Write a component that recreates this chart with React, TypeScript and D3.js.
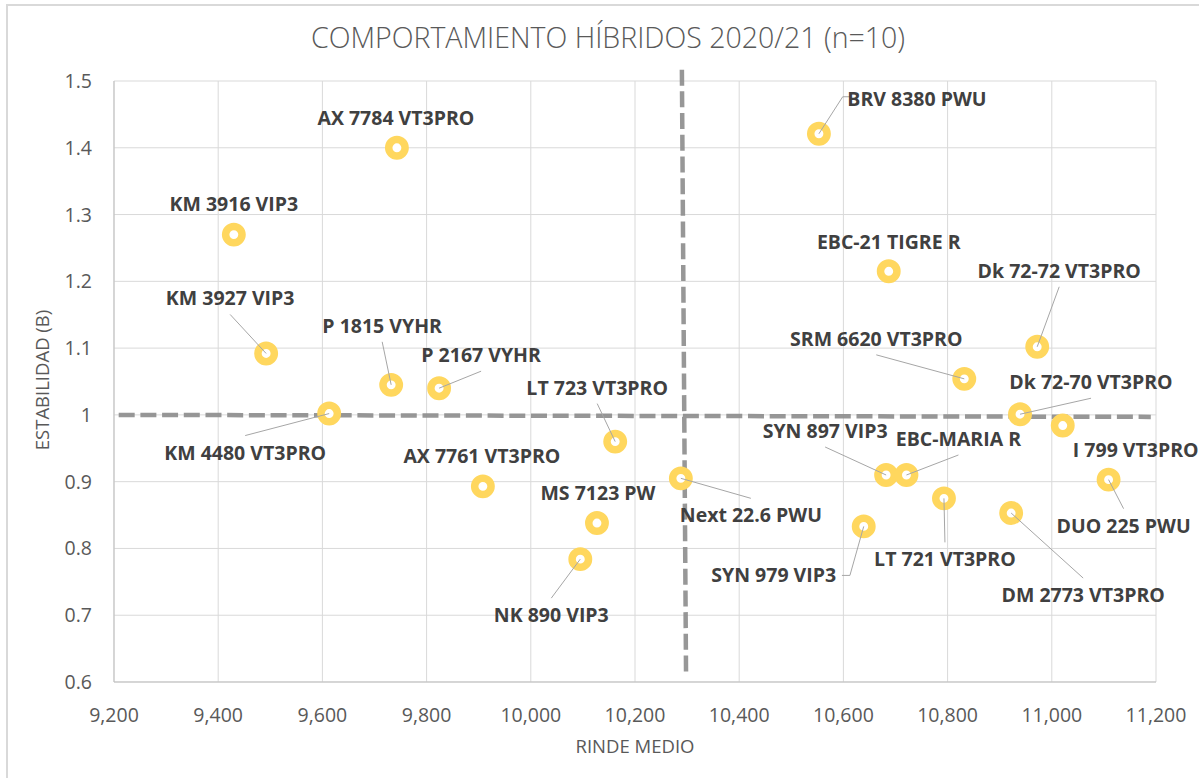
import * as d3 from 'd3';

const W = 1199;
const H = 778;
const margin = { top: 81, right: 43, bottom: 96, left: 114 };

// hybrids: name, rinde medio (x), estabilidad b (y)
const hybrids = [
  'AX 7784 VT3PRO', 'KM 3916 VIP3', 'KM 3927 VIP3', 'P 1815 VYHR', 'P 2167 VYHR',
  'KM 4480 VT3PRO', 'AX 7761 VT3PRO', 'MS 7123 PW', 'NK 890 VIP3', 'LT 723 VT3PRO',
  'Next 22.6 PWU', 'BRV 8380 PWU', 'EBC-21 TIGRE R', 'Dk 72-72 VT3PRO', 'SRM 6620 VT3PRO',
  'Dk 72-70 VT3PRO', 'I 799 VT3PRO', 'DUO 225 PWU', 'SYN 897 VIP3', 'EBC-MARIA R',
  'LT 721 VT3PRO', 'SYN 979 VIP3', 'DM 2773 VT3PRO',
];
const rinde = [
  9743, 9430, 9492, 9732, 9824,
  9613, 9908, 10127, 10095, 10162,
  10288, 10553, 10687, 10972, 10832,
  10939, 11021, 11109, 10682, 10721,
  10793, 10639, 10922,
];
const estabilidad = [
  1.400, 1.270, 1.092, 1.045, 1.040,
  1.002, 0.893, 0.838, 0.784, 0.960,
  0.905, 1.421, 1.215, 1.102, 1.054,
  1.001, 0.984, 0.903, 0.910, 0.910,
  0.875, 0.833, 0.853,
];

// reference lines (mean rinde / b = 1)
const vLine = [{ x: 10290, y: 1.517 }, { x: 10298, y: 0.607 }];
const hLine = [{ x: 9209, y: 1.0 }, { x: 11190, y: 0.997 }];

const xTicks = d3.range(9200, 11201, 200);
const yTicks = d3.range(6, 16).map((d) => d / 10);

// label placement in px relative to the marker: [dx, dy, leader]
type Leader = 'none' | 'bottom' | 'top' | 'leftElbow' | 'rightElbow';
const labelPos: [number, number, Leader][] = [
  [-1, -23, 'none'], [0, -24, 'none'], [-36, -48, 'bottom'], [-9, -52, 'bottom'], [42, -26, 'bottom'],
  [-84, 46, 'top'], [-1, -23, 'none'], [1, -23, 'none'], [-29, 63, 'top'], [-18, -47, 'bottom'],
  [70, 44, 'top'], [98, -28, 'leftElbow'], [0, -22, 'none'], [22, -69, 'bottom'], [-88, -33, 'bottom'],
  [71, -25, 'bottom'], [73, 31, 'none'], [15, 53, 'top'], [-61, -37, 'bottom'], [52, -29, 'bottom'],
  [1, 68, 'top'], [-90, 56, 'rightElbow'], [72, 89, 'top'],
];

const FONT = '"Open Sans", "Liberation Sans", sans-serif';

export default function App() {
  const x = d3.scaleLinear().domain([9200, 11200]).range([margin.left, W - margin.right]);
  const y = d3.scaleLinear().domain([0.6, 1.5]).range([H - margin.bottom, margin.top]);
  const fmtX = d3.format(',');
  const fmtY = (d: number) => String(+d.toFixed(1));
  const line = d3.line<{ x: number; y: number }>().x((d) => x(d.x)).y((d) => y(d.y));

  const pts = hybrids.map((name, i) => ({ name, px: x(rinde[i]), py: y(estabilidad[i]), pos: labelPos[i] }));

  // rough label width for the elbow leaders
  const measure = (s: string) => s.length * 10.2;

  const leaderPath = (p: { name: string; px: number; py: number; pos: [number, number, Leader] }) => {
    const [dx, dy, kind] = p.pos;
    const lx = p.px + dx;
    const ly = p.py + dy;
    if (kind === 'bottom') return `M${lx},${ly + 9}L${p.px},${p.py}`;
    if (kind === 'top') return `M${lx},${ly - 24}L${p.px},${p.py}`;
    if (kind === 'leftElbow') {
      const sx = lx - measure(p.name) / 2 - 5;
      return `M${sx},${ly - 9}L${sx - 8},${ly - 9}L${p.px},${p.py}`;
    }
    if (kind === 'rightElbow') {
      const sx = lx + measure(p.name) / 2 + 7;
      return `M${sx},${ly - 7}L${sx + 8},${ly - 7}L${p.px},${p.py}`;
    }
    return null;
  };

  return (
    <svg
      width={W}
      height={H}
      style={{ position: 'absolute', left: 0, top: 0, background: '#fff', fontFamily: FONT }}
    >
      <rect x={7} y={5} width={W + 20} height={H + 20} fill="#fff" stroke="#d9d9d9" strokeWidth={2} />

      <text x={608} y={48} textAnchor="middle" fontSize={28.5} fontWeight={300} fill="#595959">
        COMPORTAMIENTO HÍBRIDOS 2020/21 (n=10)
      </text>

      {/* grid */}
      <g stroke="#d9d9d9" strokeWidth={1}>
        {xTicks.map((t) => (
          <line key={'gx' + t} x1={x(t)} x2={x(t)} y1={y(1.5)} y2={y(0.6)} />
        ))}
        {yTicks.map((t) => (
          <line key={'gy' + t} x1={x(9200)} x2={x(11200)} y1={y(t)} y2={y(t)} />
        ))}
      </g>
      <line x1={x(9200)} x2={x(9200)} y1={y(1.5)} y2={y(0.6)} stroke="#bfbfbf" />
      <line x1={x(9200)} x2={x(11200)} y1={y(0.6)} y2={y(0.6)} stroke="#bfbfbf" />

      {/* tick labels */}
      <g fontSize={19.5} fill="#595959">
        {xTicks.map((t) => (
          <text key={'tx' + t} x={x(t)} y={722} textAnchor="middle">
            {fmtX(t)}
          </text>
        ))}
        {yTicks.map((t) => (
          <text key={'ty' + t} x={92} y={y(t) + 7} textAnchor="end">
            {fmtY(t)}
          </text>
        ))}
      </g>

      <text x={635} y={753} textAnchor="middle" fontSize={18.5} fill="#595959">
        RINDE MEDIO
      </text>
      <text
        transform={`translate(49,${380}) rotate(-90)`}
        textAnchor="middle"
        fontSize={18.5}
        fill="#595959"
      >
        ESTABILIDAD (B)
      </text>

      {/* reference lines */}
      <g fill="none" stroke="#8c8c8c" strokeWidth={4.5} strokeDasharray="16 5.7" opacity={0.9}>
        <path d={line(vLine) || undefined} />
        <path d={line(hLine) || undefined} />
      </g>

      {/* markers */}
      {pts.map((p) => (
        <circle key={'m' + p.name} cx={p.px} cy={p.py} r={8.2} fill="#fff" stroke="#ffd75e" strokeWidth={7.5} />
      ))}

      {/* leader lines */}
      <g stroke="#a6a6a6" strokeWidth={1} fill="none">
        {pts.map((p) => {
          const d = leaderPath(p);
          return d ? <path key={'l' + p.name} d={d} /> : null;
        })}
      </g>

      {/* labels */}
      <g fontSize={19.5} fontWeight={700} fill="#404040" textAnchor="middle">
        {pts.map((p) => (
          <text key={'t' + p.name} x={p.px + p.pos[0]} y={p.py + p.pos[1]}>
            {p.name}
          </text>
        ))}
      </g>
    </svg>
  );
}
